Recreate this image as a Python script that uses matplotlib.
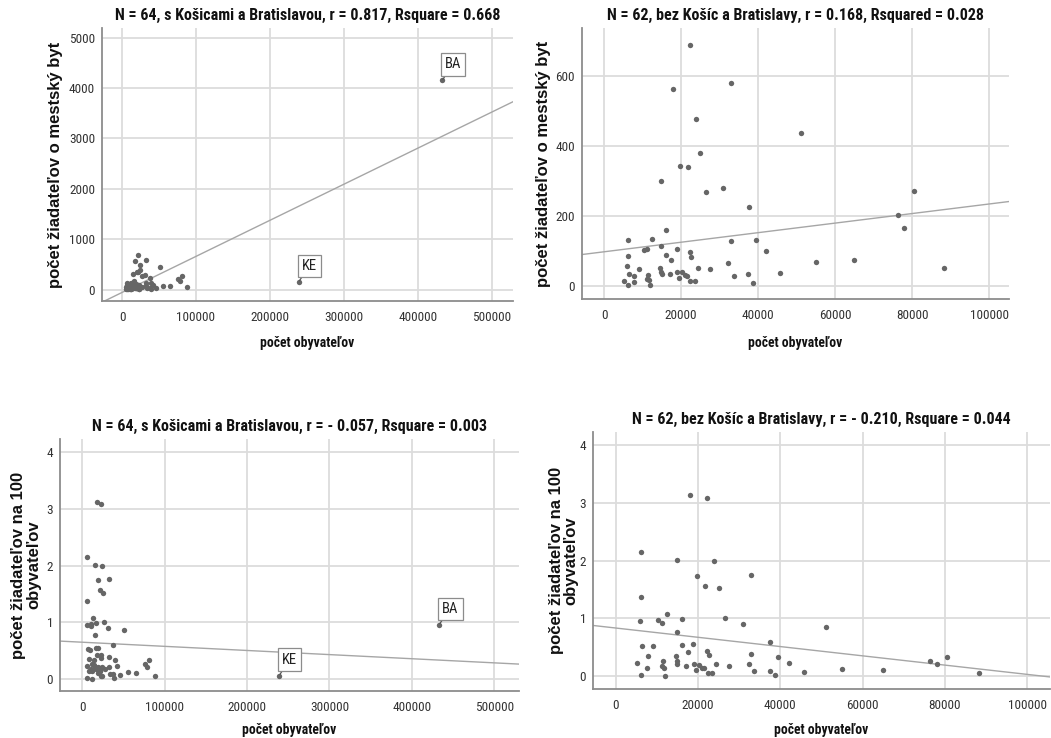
import matplotlib
matplotlib.use("Agg")
import matplotlib.pyplot as plt
import numpy as np
from matplotlib import font_manager
from matplotlib.font_manager import FontProperties

# obce bez Kosic a Bratislavy (N = 62)
populacia = [
    22300, 33000, 18000, 24000, 51100, 25000, 19700, 21700, 14900, 26600,
    31000, 80500, 37600, 76400, 78000, 16200, 6100, 12500, 32900, 39400,
    14900, 10400, 11200, 18900, 22200, 22700, 42000, 6100, 16200, 17500,
    55000, 65000, 32300, 5900, 9100, 14600, 24400, 27600, 88300, 6400,
    7800, 11500, 14800, 15000, 17200, 19000, 20200, 21000, 21500, 33700,
    37400, 45800, 5300, 6200, 7700, 11200, 11800, 11900, 19500, 22400,
    23500, 38800,
]
ziadatelia = [
    689, 580, 563, 477, 438, 381, 343, 339, 299, 268,
    281, 272, 226, 204, 165, 160, 131, 134, 129, 131,
    115, 101, 104, 104, 96, 83, 99, 84, 88, 74,
    69, 75, 66, 56, 47, 50, 50, 48, 52, 34,
    27, 31, 38, 33, 32, 39, 38, 31, 29, 29,
    32, 36, 12, 1, 11, 20, 16, 1, 21, 13,
    13, 8,
]

# Kosice a Bratislava
velke_mesta = ["KE", "BA"]
velke_populacia = [239000, 433000]
velke_ziadatelia = [150, 4150]

titles = [
    "N = 64, s Košicami a Bratislavou, r = 0.817, Rsquare = 0.668",
    "N = 62, bez Košíc a Bratislavy, r = 0.168, Rsquared = 0.028",
    "N = 64, s Košicami a Bratislavou, r = - 0.057, Rsquare = 0.003",
    "N = 62, bez Košíc a Bratislavy, r = - 0.210, Rsquare = 0.044",
]
xlabel = "počet obyvateľov"
ylabel_byt = "počet žiadateľov o mestský byt"
ylabel_100 = "počet žiadateľov na 100\nobyvateľov"

plt.rcParams["font.family"] = ["Liberation Sans", "DejaVu Sans"]


def find_narrow(bold):
    # the original is squeezed sideways, so horizontal text looks narrow
    prefs = ["liberationsansnarrow", "robotocondensed", "opensanscondensed",
             "opensans_condensed", "notosans-condensed", "dejavusanscondensed"]
    found = {}
    for f in font_manager.fontManager.ttflist:
        fn = f.fname.replace("\\", "/").split("/")[-1].lower()
        if "italic" in fn or "oblique" in fn:
            continue
        is_bold = f.weight in (700, "bold")
        if is_bold != bold:
            continue
        for p in prefs:
            if fn.startswith(p) and p not in found:
                found[p] = f.fname
    for p in prefs:
        if p in found:
            return FontProperties(fname=found[p])
    return None


NARROW = find_narrow(False)
NARROW_B = find_narrow(True)
if NARROW is not None and NARROW_B is not None:
    TICK_FP = NARROW.copy()
    TICK_FP.set_size(9.5)
    TITLE_FP = NARROW_B.copy()
    TITLE_FP.set_size(11.5)
    XLAB_FP = NARROW_B.copy()
    XLAB_FP.set_size(9.8)
    BOX_FP = NARROW.copy()
    BOX_FP.set_size(10.5)
else:
    TICK_FP = FontProperties(family=["Liberation Sans"], size=9)
    TITLE_FP = FontProperties(family=["Liberation Sans"], weight="bold", size=9.8)
    XLAB_FP = FontProperties(family=["Liberation Sans"], weight="bold", size=8.5)
    BOX_FP = FontProperties(family=["Liberation Sans"], size=10)
YLAB_FP = FontProperties(family=["Liberation Sans"], weight="bold", size=12)

POINT = "#666666"
GRID = "#dcdcdc"
SPINE = "#8c8c8c"
LINE = "#a6a6a6"
TEXT = "#111111"

pop62 = np.array(populacia, dtype=float)
zia62 = np.array(ziadatelia, dtype=float)
pop64 = np.concatenate([pop62, velke_populacia])
zia64 = np.concatenate([zia62, velke_ziadatelia])


def na_100(z, p):
    return np.asarray(z, dtype=float) / np.asarray(p, dtype=float) * 100


def style_axes(ax, xlim, ylim, xticks, yticks):
    ax.set_xlim(*xlim)
    ax.set_ylim(*ylim)
    ax.set_xticks(xticks)
    ax.set_yticks(yticks)
    ax.grid(True, color=GRID, lw=1.3)
    ax.set_axisbelow(True)
    for side in ["top", "right"]:
        ax.spines[side].set_visible(False)
    for side in ["left", "bottom"]:
        ax.spines[side].set_color(SPINE)
        ax.spines[side].set_linewidth(1.3)
    ax.tick_params(length=0, colors="#333333")
    ax.tick_params(axis="x", pad=7)
    ax.tick_params(axis="y", pad=5)
    for lab in ax.get_xticklabels() + ax.get_yticklabels():
        lab.set_fontproperties(TICK_FP)


def fit_line(ax, x, y, xlim):
    k, q = np.polyfit(x, y, 1)
    xs = np.array(xlim)
    ax.plot(xs, k * xs + q, color=LINE, lw=1.0, zorder=2)


def label_cities(ax, ys):
    for name, x, y in zip(velke_mesta, velke_populacia, ys):
        ax.annotate(
            name, xy=(x, y), xytext=(3, 9), textcoords="offset pixels",
            ha="left", va="bottom", fontproperties=BOX_FP, color="#222222",
            bbox=dict(boxstyle="square,pad=0.28", fc="white", ec="#8c8c8c", lw=0.9),
            arrowprops=dict(arrowstyle="-", color="#555555", lw=0.9,
                            shrinkA=0, shrinkB=1),
            zorder=5,
        )


fig = plt.figure(figsize=(10.51, 7.38), dpi=100)
ax1 = fig.add_axes([0.0971, 0.592, 0.391, 0.370])
ax2 = fig.add_axes([0.5535, 0.595, 0.4066, 0.367])
ax3 = fig.add_axes([0.0571, 0.0637, 0.4367, 0.3414])
ax4 = fig.add_axes([0.5642, 0.0664, 0.4348, 0.348])

big_xt = np.arange(0, 500001, 100000)
small_xt = np.arange(0, 100001, 20000)

# 1: s KE a BA
xl1 = (-27000, 529000)
style_axes(ax1, xl1, (-230, 5190), big_xt, np.arange(0, 5001, 1000))
fit_line(ax1, pop64, zia64, xl1)
ax1.scatter(pop64, zia64, s=15, color=POINT, lw=0, zorder=3)
label_cities(ax1, velke_ziadatelia)

# 2: bez KE a BA
xl2 = (-5800, 105200)
style_axes(ax2, xl2, (-38, 739), small_xt, np.arange(0, 601, 200))
fit_line(ax2, pop62, zia62, xl2)
ax2.scatter(pop62, zia62, s=15, color=POINT, lw=0, zorder=3)

# 3: na 100 obyvatelov, s KE a BA
xl3 = (-27000, 530000)
r64 = na_100(zia64, pop64)
style_axes(ax3, xl3, (-0.21, 4.23), big_xt, np.arange(0, 5))
fit_line(ax3, pop64, r64, xl3)
ax3.scatter(pop64, r64, s=15, color=POINT, lw=0, zorder=3)
label_cities(ax3, na_100(velke_ziadatelia, velke_populacia))

# 4: na 100 obyvatelov, bez KE a BA
xl4 = (-5500, 105500)
r62 = na_100(zia62, pop62)
style_axes(ax4, xl4, (-0.22, 4.22), small_xt, np.arange(0, 5))
fit_line(ax4, pop62, r62, xl4)
ax4.scatter(pop62, r62, s=15, color=POINT, lw=0, zorder=3)

for ax, t in zip([ax1, ax2, ax3, ax4], titles):
    ax.set_title(t, fontproperties=TITLE_FP, color=TEXT, pad=6)

ax1.set_xlabel(xlabel, fontproperties=XLAB_FP, color=TEXT, labelpad=9)
ax2.set_xlabel(xlabel, fontproperties=XLAB_FP, color=TEXT, labelpad=10)
ax3.set_xlabel(xlabel, fontproperties=XLAB_FP, color=TEXT, labelpad=7)
ax4.set_xlabel(xlabel, fontproperties=XLAB_FP, color=TEXT, labelpad=8)

ax1.set_ylabel(ylabel_byt, fontproperties=YLAB_FP, color=TEXT, labelpad=4)
ax2.set_ylabel(ylabel_byt, fontproperties=YLAB_FP, color=TEXT, labelpad=3)
ax3.set_ylabel(ylabel_100, fontproperties=YLAB_FP, color=TEXT,
               labelpad=4, linespacing=0.95)
ax4.set_ylabel(ylabel_100, fontproperties=YLAB_FP, color=TEXT,
               labelpad=1, linespacing=0.95)

fig.savefig("out.png", dpi=100, facecolor="white")
